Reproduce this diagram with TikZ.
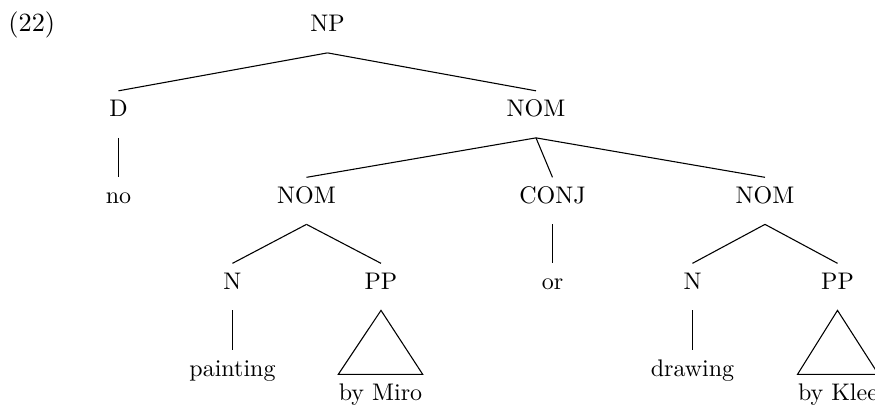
\documentclass[tikz,border=0pt]{standalone}
\begin{document}
\begin{tikzpicture}[x=0.416667pt, y=-0.416667pt,
  cat/.style={inner sep=0pt, text height=10.5pt, text depth=8.7pt, anchor=base},
  branch/.style={line width=0.45pt}]
\useasboundingbox (0,0) rectangle (875,404);

% example number
\node[anchor=base west, inner sep=0pt, font=\fontsize{10.95}{13}\selectfont] (ex) at (8,31) {(22)};

% categories and words
\node[cat] (np)       at (327.5,31.5) {NP};
\node[cat] (d)        at (118.5,116.5) {D};
\node[cat] (nom)      at (536,116.5)  {NOM};
\node[cat] (no)       at (118.5,203)  {no};
\node[cat] (noma)     at (306.5,203)  {NOM};
\node[cat] (conj)     at (552.5,203)  {CONJ};
\node[cat] (nomb)     at (765,203)    {NOM};
\node[cat] (na)       at (232.5,289)  {N};
\node[cat] (ppa)      at (381,289)    {PP};
\node[cat] (or)       at (552.5,289)  {or};
\node[cat] (nb)       at (692.5,289)  {N};
\node[cat] (ppb)      at (837.5,289)  {PP};
\node[cat] (painting) at (232.5,376)  {painting};
\node[cat] (miro)     at (380.5,400)  {by Miro};
\node[cat] (drawing)  at (692.5,376)  {drawing};
\node[cat] (klee)     at (838,400)    {by Klee};

% branches
\draw[branch] (np.south) -- (d.north);
\draw[branch] (np.south) -- (nom.north);
\draw[branch] (d.south) -- (no.north);
\draw[branch] (nom.south) -- (noma.north);
\draw[branch] (nom.south) -- (conj.north);
\draw[branch] (nom.south) -- (nomb.north);
\draw[branch] (noma.south) -- (na.north);
\draw[branch] (noma.south) -- (ppa.north);
\draw[branch] (conj.south) -- (or.north);
\draw[branch] (nomb.south) -- (nb.north);
\draw[branch] (nomb.south) -- (ppb.north);
\draw[branch] (na.south) -- (painting.north);
\draw[branch] (nb.south) -- (drawing.north);

% roofs over unanalysed phrases
\draw[branch] (ppa.south) -- (miro.north west) -- (miro.north east) -- cycle;
\draw[branch] (ppb.south) -- (klee.north west) -- (klee.north east) -- cycle;
\end{tikzpicture}
\end{document}
